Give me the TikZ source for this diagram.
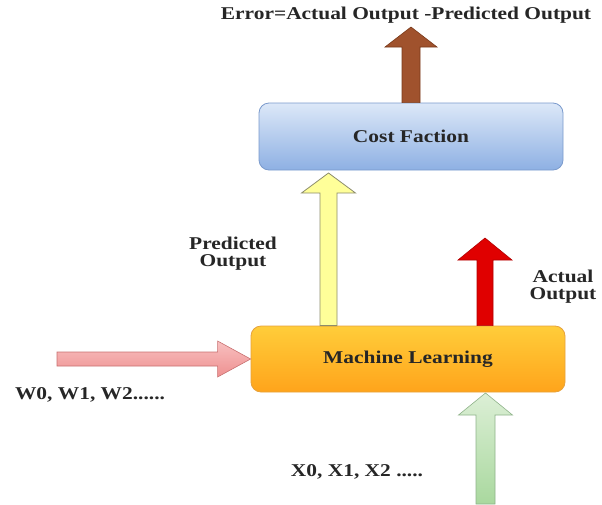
\documentclass[tikz,border=0pt]{standalone}
\usepackage{fontspec}
\setmainfont{Liberation Serif}
\usepackage{graphicx}
\usetikzlibrary{calc}
\definecolor{brownA}{HTML}{A0522D}
\definecolor{brownB}{HTML}{7A3A1A}
\definecolor{blueT}{HTML}{DCE8F8}
\definecolor{blueB}{HTML}{8EB0E3}
\definecolor{blueL}{HTML}{7A9ACC}
\definecolor{yelF}{HTML}{FFFF99}
\definecolor{yelL}{HTML}{8C8C6C}
\definecolor{redF}{HTML}{E00000}
\definecolor{redL}{HTML}{B00000}
\definecolor{oraT}{HTML}{FFCD3A}
\definecolor{oraB}{HTML}{FFA41B}
\definecolor{oraL}{HTML}{E6A23C}
\definecolor{pinkT}{HTML}{F8C0C0}
\definecolor{pinkB}{HTML}{EE9090}
\definecolor{pinkL}{HTML}{C87070}
\definecolor{grnT}{HTML}{DCEFD6}
\definecolor{grnB}{HTML}{A9D89E}
\definecolor{grnL}{HTML}{8FB38A}
\newcommand\widetxt[1]{\scalebox{1.19}[1]{#1}}
\newcommand\blockarr[6]{%
  \coordinate (ba-h) at ($#3!#6!#2$);
  \path[#1] ($#2!#4!90:#3$) -- ($(ba-h)!#4!90:#3$) -- ($(ba-h)!#5!90:#3$) -- #3
    -- ($(ba-h)!#5!-90:#3$) -- ($(ba-h)!#4!-90:#3$) -- ($#2!#4!-90:#3$) -- cycle;}
\tikzset{
  lbl/.style={font=\fontsize{18}{17}\selectfont\bfseries, inner sep=0pt, align=center, text=black!85},
  boxA/.style={rounded corners=10pt, minimum width=304pt, minimum height=67pt, draw=blueL, line width=0.8pt,
    top color=blueT, bottom color=blueB, lbl},
  boxB/.style={rounded corners=10pt, minimum width=314pt, minimum height=66pt, draw=oraL, line width=0.8pt,
    top color=oraT, bottom color=oraB, lbl},
}
\begin{document}
\begin{tikzpicture}[x=1pt,y=-1pt]
\useasboundingbox (0,0) rectangle (602,504);
\node[boxA] (cost) at (411,136.5) {\widetxt{Cost Faction}};
\node[boxB] (ml) at (408,359) {\widetxt{Machine Learning}};
\node[lbl] (err) at (406,15) {\widetxt{Error=Actual Output -Predicted Output}};
\node[lbl] (pred) at (233,254) {\widetxt{Predicted}\\\widetxt{Output}};
\node[lbl] (act) at (563,287) {\widetxt{Actual}\\\widetxt{Output}};
\node[lbl] (wlab) at (90,395) {\widetxt{W0, W1, W2......}};
\node[lbl] (xlab) at (357,472) {\widetxt{X0, X1, X2 .....}};
% coordinates for arrow ends
\coordinate (btip) at (411,27);
\coordinate (bbot) at (btip |- cost.north);
\coordinate (ytip) at (328.5,173);
\coordinate (ybot) at (ytip |- ml.north);
\coordinate (rtip) at (485,238);
\coordinate (rbot) at (rtip |- ml.north);
\coordinate (gtip) at (485.5,393);
\coordinate (gbot) at (485.5,504);
\coordinate (pstart) at (57,359);
\coordinate (ptip) at (ml.west |- pstart);
% arrows
\blockarr{draw=brownB, fill=brownA, line width=0.6pt}{(bbot)}{(btip)}{9pt}{26pt}{20pt}
\blockarr{draw=yelL, fill=yelF, line width=0.8pt}{(ybot)}{(ytip)}{8.5pt}{27pt}{20pt}
\blockarr{draw=redL, fill=redF, line width=0.6pt}{(rbot)}{(rtip)}{8pt}{27pt}{22pt}
\blockarr{draw=pinkL, top color=pinkT, bottom color=pinkB, line width=0.6pt}{(pstart)}{(ptip)}{7pt}{18pt}{33pt}
\blockarr{draw=grnL, top color=grnT, bottom color=grnB, line width=0.6pt}{(gbot)}{(gtip)}{9.5pt}{27pt}{22pt}
\end{tikzpicture}
\end{document}
